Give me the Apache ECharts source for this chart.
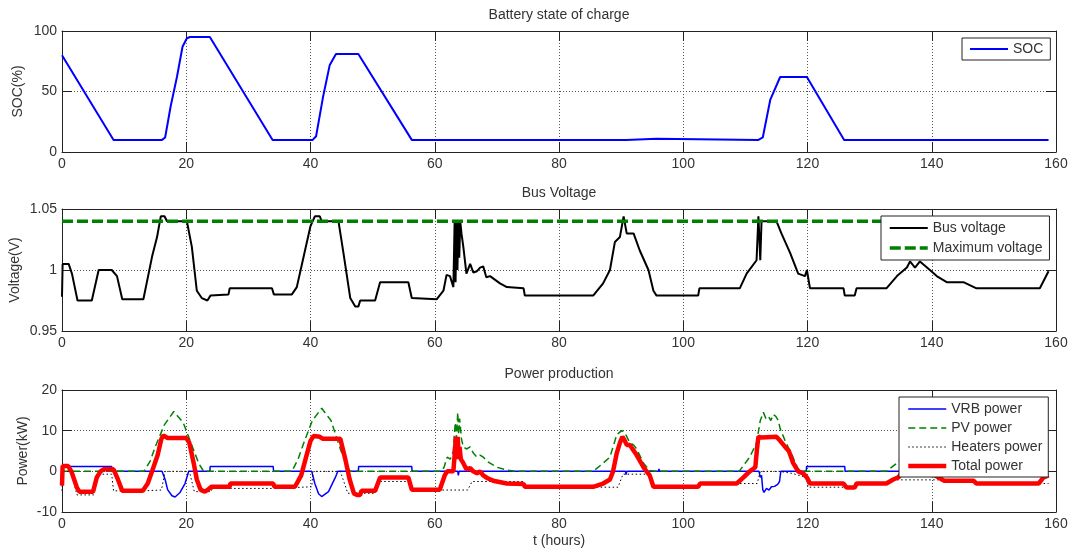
<!DOCTYPE html>
<html>
<head>
<meta charset="utf-8">
<script src="https://cdn.jsdelivr.net/npm/echarts@6/dist/echarts.min.js"></script>
<style>
html, body { margin: 0; padding: 0; background: #fff; }
#chart { width: 1070px; height: 553px; }
</style>
</head>
<body>
<div id="chart"></div>
<script>
// ---- Battery state of charge (%) ----
const socHours = [0, 8.3, 16.1, 16.6, 17.5, 18.5, 19.4, 20.1, 20.6, 23.8, 33.9, 40.35, 40.9, 42, 43.1, 44.1, 47.7, 56.3, 90.8, 90.9, 95.7, 95.8, 112.1, 112.8, 114, 115.6, 119.9, 125.9, 158.8];
const socValues = [80, 10, 10, 12, 38, 62, 87, 94, 95, 95, 10, 10, 13, 45, 72, 81, 81, 10, 10, 11, 11, 10, 10, 12, 43, 62, 62, 10, 10];

// ---- Bus voltage (V) ----
const busHours = [0, 0.1, 1.07, 1.6, 2.5, 4.8, 5.9, 8.0, 8.85, 9.7, 13.1, 14.5, 15.3, 15.9, 16.5, 16.9, 20.1, 20.9, 21.7, 22.5, 23.4, 23.9, 26.8, 27, 33.8, 34.1, 37, 37.8, 38.9, 40, 40.7, 41.5, 41.8, 44.5, 45.3, 46.4, 47.2, 47.7, 48, 50.4, 51.2, 55.75, 56.3, 60.3, 61.4, 61.9, 62.45, 63, 63.2, 63.35, 63.5, 63.65, 63.8, 63.95, 64.1, 64.3, 64.6, 65.1, 65.7, 66.2, 66.8, 67.3, 67.8, 68.3, 68.9, 70.5, 71.6, 74.3, 74.5, 85.5, 87.1, 88.2, 89, 89.8, 90.4, 90.9, 92, 93, 94.4, 95.2, 95.7, 102.4, 102.6, 109.1, 110.2, 111.8, 112.1, 112.4, 112.6, 115.0, 115.8, 117.2, 118.5, 119.6, 119.9, 120.4, 125.8, 126, 127.6, 127.9, 132.7, 134.4, 136, 136.5, 137.3, 138.1, 139.7, 140.8, 142.4, 145.1, 147.2, 157.4, 158.8];
const busValues = [0.978, 1.005, 1.005, 0.997, 0.975, 0.975, 1.0, 1.0, 0.995, 0.976, 0.976, 1.011, 1.027, 1.044, 1.044, 1.04, 1.04, 1.019, 0.983, 0.977, 0.975, 0.979, 0.98, 0.985, 0.985, 0.98, 0.98, 0.986, 1.011, 1.036, 1.044, 1.044, 1.04, 1.04, 1.014, 0.977, 0.970, 0.970, 0.975, 0.975, 0.99, 0.99, 0.977, 0.976, 0.983, 0.996, 0.995, 0.986, 1.04, 0.99, 1.04, 1.0, 1.04, 1.01, 1.04, 1.03, 1.019, 0.997, 1.005, 0.998, 0.999, 1.002, 1.003, 0.994, 0.995, 0.989, 0.986, 0.985, 0.979, 0.979, 0.989, 1.0, 1.023, 1.027, 1.044, 1.03, 1.03, 1.016, 1.0, 0.983, 0.979, 0.979, 0.985, 0.985, 0.997, 1.008, 1.044, 1.008, 1.04, 1.04, 1.03, 1.014, 0.997, 0.995, 1.0, 0.985, 0.985, 0.979, 0.979, 0.985, 0.985, 0.995, 1.002, 1.007, 1.002, 1.007, 1.0, 0.995, 0.99, 0.99, 0.985, 0.985, 0.999];

const maxVoltageHours = [0, 158.8];
const maxVoltageValues = [1.04, 1.04];

// ---- Power production (kW) ----
const vrbHours = [0, 8, 8.05, 16.1, 16.6, 17.0, 17.7, 18.2, 19.0, 19.8, 20.4, 23.8, 23.85, 34, 34.05, 40.2, 40.7, 41.3, 41.8, 42.9, 44.0, 44.4, 47.7, 47.75, 56.3, 56.35, 63.7, 63.8, 63.9, 90.7, 90.8, 90.9, 96.0, 96.1, 96.2, 112.2, 112.4, 112.6, 112.8, 113.0, 113.4, 113.8, 114.2, 114.7, 115.2, 115.5, 115.7, 119.8, 119.85, 126, 126.05, 158.8];
const vrbValues = [1.2, 1.2, 0, 0, -2, -4.5, -6, -6.3, -5.2, -3, 0, 0, 1.2, 1.2, 0, 0, -3, -5.5, -6.2, -5, -1.5, 0, 0, 1.2, 1.2, 0, 0, -1, 0, 0, -0.8, 0, 0, 0.6, 0, 0, -1.5, -1, -4.5, -5.2, -4.2, -4.6, -3.8, -3.7, -3.2, -2.5, 0, 0, 1.2, 1.2, 0, 0];

const pvHours = [0, 13.2, 14.2, 15, 16.5, 18, 19.5, 21, 22, 22.8, 37, 38, 38.8, 40.3, 41.8, 43.3, 44.8, 45.8, 46.4, 61.0, 61.5, 62, 62.5, 63, 63.3, 63.5, 63.7, 63.85, 64.0, 64.3, 64.6, 65.1, 65.7, 66.2, 66.8, 67.3, 67.8, 68.4, 68.9, 70, 71.6, 73, 85.5, 87.1, 88.2, 88.7, 89.3, 90.1, 90.6, 91.4, 92, 92.5, 93.6, 94.6, 95.5, 109, 110.7, 111.8, 112.4, 112.9, 113.3, 113.7, 114.1, 114.5, 114.9, 115.3, 115.6, 116.4, 117.5, 118.5, 119.5, 132.7, 134.4, 136, 137.5, 139, 140.5, 142, 158.8];
const pvValues = [0, 0, 2.5, 6, 11.5, 14.7, 12, 6, 2, 0, 0, 3, 6.5, 12.5, 15.5, 12.5, 5.5, 1.5, 0, 0, 1, 3.5, 3, 5, 12, 8, 14.5, 9, 13, 8, 6, 5.5, 6, 4.5, 3.5, 4, 3.5, 2.5, 2, 1, 0.3, 0, 0, 2, 3.5, 6, 9, 10, 9.5, 7, 6.5, 5.5, 2, 0.2, 0, 0, 3.5, 7, 12.5, 14.5, 13, 13.5, 12.5, 14, 13.5, 12.5, 10.5, 7.5, 4, 0.5, 0, 0, 2, 4.5, 5.5, 4.5, 2, 0, 0];

const heaterHours = [0, 0.1, 1.5, 2.4, 5.1, 5.6, 8.0, 8.3, 13, 16.0, 16.6, 20.5, 21.3, 24, 24.2, 34, 34.2, 40.2, 40.4, 44.8, 46, 50.4, 51.2, 55.75, 56.3, 65.3, 66, 74.3, 74.5, 89.5, 90.3, 94.6, 95.2, 102.4, 102.6, 111.9, 112.4, 115.5, 117.5, 119.8, 120.1, 126, 126.3, 127.6, 127.9, 133.2, 133.6, 142.4, 146.9, 147.2, 158.8];
const heaterValues = [-4.8, 0, 0, -5.8, -5.8, -0.7, -0.7, -4.8, -4.8, -4.6, 0, 0, -5, -5, -4.2, -4.2, -3.8, -3.8, 0, 0, -5.4, -5.4, -2.5, -2.5, -4.6, -4.6, -2.5, -2.5, -3.9, -3.9, -0.7, -0.7, -3.8, -3.8, -3, -3, 0, 0, -0.5, -1.5, -3.9, -3.9, -4, -4, -3, -3, -2.1, -2.1, -2.3, -3, -3];

const totalHours = [0, 0.1, 1.0, 1.5, 2.4, 2.8, 5.0, 5.6, 6.2, 6.7, 8.3, 9.0, 9.7, 13.0, 13.8, 14.5, 15.4, 16.0, 16.3, 17.0, 20.0, 20.5, 21.2, 21.7, 22.3, 23.0, 23.5, 24.0, 27.0, 27.1, 34.0, 34.2, 37.5, 38.5, 39.2, 40.0, 40.5, 41.5, 42.0, 44.8, 45.6, 46.3, 47.0, 47.5, 48.0, 48.2, 50.4, 51.2, 55.75, 56.3, 60.8, 61.6, 62.0, 63.0, 63.2, 63.4, 63.55, 63.7, 63.85, 64.0, 64.2, 64.6, 65.1, 65.7, 66.2, 66.8, 67.3, 67.8, 68.5, 69.4, 71.6, 74.3, 74.5, 85.5, 87.1, 88.2, 88.7, 89.3, 89.8, 90.2, 90.5, 90.9, 91.4, 92.5, 93.6, 94.6, 95.2, 102.4, 102.7, 108.6, 109.7, 110.7, 111.6, 111.9, 112.1, 112.6, 115.0, 115.6, 116.4, 117.0, 117.7, 118.5, 119.3, 119.9, 120.4, 125.8, 126.3, 127.6, 127.9, 132.7, 133.8, 134.6, 136, 137.5, 139, 140.5, 142.0, 146.7, 147.2, 157.2, 158.0, 158.8];
const totalValues = [-3.5, 1.3, 1.3, 0, -4, -5, -5, -1.5, 0, 0.5, 0.5, -2, -4.8, -4.8, -3, 0, 4, 8, 8.8, 8.2, 8.2, 7, 2, -2, -4.5, -5, -4.5, -3.8, -3.8, -3, -3, -3.8, -3.8, -1, 3, 7.5, 8.7, 8.5, 8, 8, 3, -2, -5.5, -5.8, -5.8, -4.8, -4.8, -1.5, -1.5, -4.5, -4.5, -1, 0, 0, 4, 8.5, 3, 8.5, 4, 6, 3, 2, 0.5, 0.8, 0, -0.5, 0, -1, -1.7, -2.3, -3, -3.1, -3.8, -3.8, -3, -2, 0, 4.5, 7, 8.5, 7.8, 6.5, 6.5, 4, 1, -1, -3.8, -3.8, -3, -3, -1.5, 0, 1, 6, 8.5, 8.3, 8.5, 7.5, 6, 5, 2, 0, -0.5, -1.5, -3, -3, -4, -4, -3, -3, -2, -1.5, 1, 2, 1, -1, -2.3, -2.3, -3, -3, -1.5, -1];

// ---- Axis ticks ----
const hourTicks = { min: 0, max: 160, interval: 20 };
const socTicks = { min: 0, max: 100, interval: 50 };
const voltTicks = { min: 0.95, max: 1.05, interval: 0.05 };
const powerTicks = { min: -10, max: 20, interval: 10 };

const pairs = (xs, ys) => xs.map((x, i) => [x, ys[i]]);

const FONT = 'Liberation Sans, Arial, sans-serif';
const TEXT = '#333';
const AXIS = '#222';
const GRID_LINE = { show: true, lineStyle: { color: '#555', type: [1, 2], width: 1 } };

const grids = [
  { left: 62, top: 31, width: 994, height: 121, outerBoundsMode: 'none', containLabel: false },
  { left: 62, top: 209, width: 994, height: 122, outerBoundsMode: 'none', containLabel: false },
  { left: 62, top: 390, width: 994, height: 122, outerBoundsMode: 'none', containLabel: false }
];

function bottomAxis(g, name) {
  return {
    type: 'value', gridIndex: g, position: 'bottom', ...hourTicks,
    axisLine: { show: true, onZero: false, lineStyle: { color: AXIS } },
    axisTick: { show: true, inside: true, length: 10, lineStyle: { color: AXIS } },
    axisLabel: { show: true, margin: 5, fontSize: 14, color: TEXT, fontFamily: FONT },
    splitLine: GRID_LINE,
    name: name || '', nameLocation: 'middle', nameGap: 22, nameMoveOverlap: false,
    nameTextStyle: { fontSize: 14, color: TEXT, fontFamily: FONT }
  };
}
function topAxis(g) {
  return {
    type: 'value', gridIndex: g, position: 'top', ...hourTicks,
    axisLine: { show: true, onZero: false, lineStyle: { color: AXIS } },
    axisTick: { show: true, inside: true, length: 10, lineStyle: { color: AXIS } },
    axisLabel: { show: false }, splitLine: { show: false }
  };
}
function leftAxis(g, ticks, name, gap, fmt) {
  return {
    type: 'value', gridIndex: g, position: 'left', ...ticks,
    axisLine: { show: true, onZero: false, lineStyle: { color: AXIS } },
    axisTick: { show: true, inside: true, length: 10, lineStyle: { color: AXIS } },
    axisLabel: { show: true, margin: 5, fontSize: 14, color: TEXT, fontFamily: FONT, formatter: fmt },
    splitLine: GRID_LINE,
    name: name, nameLocation: 'middle', nameGap: gap, nameRotate: 90, nameMoveOverlap: false,
    nameTextStyle: { fontSize: 14, color: TEXT, fontFamily: FONT }
  };
}
function rightAxis(g, ticks) {
  return {
    type: 'value', gridIndex: g, position: 'right', ...ticks,
    axisLine: { show: true, onZero: false, lineStyle: { color: AXIS } },
    axisTick: { show: true, inside: true, length: 10, lineStyle: { color: AXIS } },
    axisLabel: { show: false }, splitLine: { show: false }
  };
}

function line(name, xi, yi, data, color, width, type, z) {
  return {
    name, type: 'line', xAxisIndex: xi, yAxisIndex: yi, data,
    symbol: 'none', showSymbol: false, z: z,
    lineStyle: { color, width, type: type || 'solid' },
    itemStyle: { color }
  };
}

// Legend boxes: line samples in each series' own width and dash, no marker symbol
const legendBase = {
  orient: 'vertical', itemWidth: 38, itemHeight: 14, selectedMode: false, z: 20,
  borderColor: '#222', borderWidth: 1, backgroundColor: '#fff',
  itemStyle: { opacity: 0, borderWidth: 0 },
  lineStyle: { width: 'inherit', type: 'inherit' },
  textStyle: { fontSize: 14, color: TEXT, fontFamily: FONT }
};

const titleStyle = { fontSize: 14, fontWeight: 'normal', color: TEXT, fontFamily: FONT };

const chart = echarts.init(document.getElementById('chart'), null, { renderer: 'canvas' });
chart.setOption({
  animation: false,
  backgroundColor: '#fff',
  textStyle: { fontFamily: FONT },
  title: [
    { text: 'Battery state of charge', left: 559, top: 8, textAlign: 'center', padding: 0, textStyle: titleStyle },
    { text: 'Bus Voltage', left: 559, top: 186, textAlign: 'center', padding: 0, textStyle: titleStyle },
    { text: 'Power production', left: 559, top: 367, textAlign: 'center', padding: 0, textStyle: titleStyle }
  ],
  grid: grids,
  xAxis: [bottomAxis(0), bottomAxis(1), bottomAxis(2, 't (hours)'), topAxis(0), topAxis(1), topAxis(2)],
  yAxis: [
    leftAxis(0, socTicks, 'SOC(%)', 37),
    leftAxis(1, voltTicks, 'Voltage(V)', 40, v => String(Math.round(v * 100) / 100)),
    leftAxis(2, powerTicks, 'Power(kW)', 32),
    rightAxis(0, socTicks), rightAxis(1, voltTicks), rightAxis(2, powerTicks)
  ],
  legend: [
    { ...legendBase, data: ['SOC'], left: 962, top: 38, padding: [4, 7, 4, 7], itemGap: 5 },
    { ...legendBase, data: ['Bus voltage', 'Maximum voltage'], left: 881, top: 216, padding: [5, 7, 5, 7], itemGap: 6 },
    { ...legendBase, data: ['VRB power', 'PV power', 'Heaters power', 'Total power'], left: 899, top: 397, padding: [5, 6, 4, 7], itemGap: 5 }
  ],
  series: [
    line('SOC', 0, 0, pairs(socHours, socValues), '#0000ff', 2, 'solid', 3),
    line('Bus voltage', 1, 1, pairs(busHours, busValues), '#000000', 2, 'solid', 3),
    line('Maximum voltage', 1, 1, pairs(maxVoltageHours, maxVoltageValues), '#008000', 3.5, [11, 4], 4),
    line('VRB power', 2, 2, pairs(vrbHours, vrbValues), '#0000ff', 1.5, 'solid', 3),
    line('PV power', 2, 2, pairs(pvHours, pvValues), '#008000', 1.5, [7, 4], 4),
    line('Heaters power', 2, 2, pairs(heaterHours, heaterValues), '#000000', 1, [1.5, 2.5], 5),
    line('Total power', 2, 2, pairs(totalHours, totalValues), '#ff0000', 4.5, 'solid', 6)
  ]
});
</script>
</body>
</html>
